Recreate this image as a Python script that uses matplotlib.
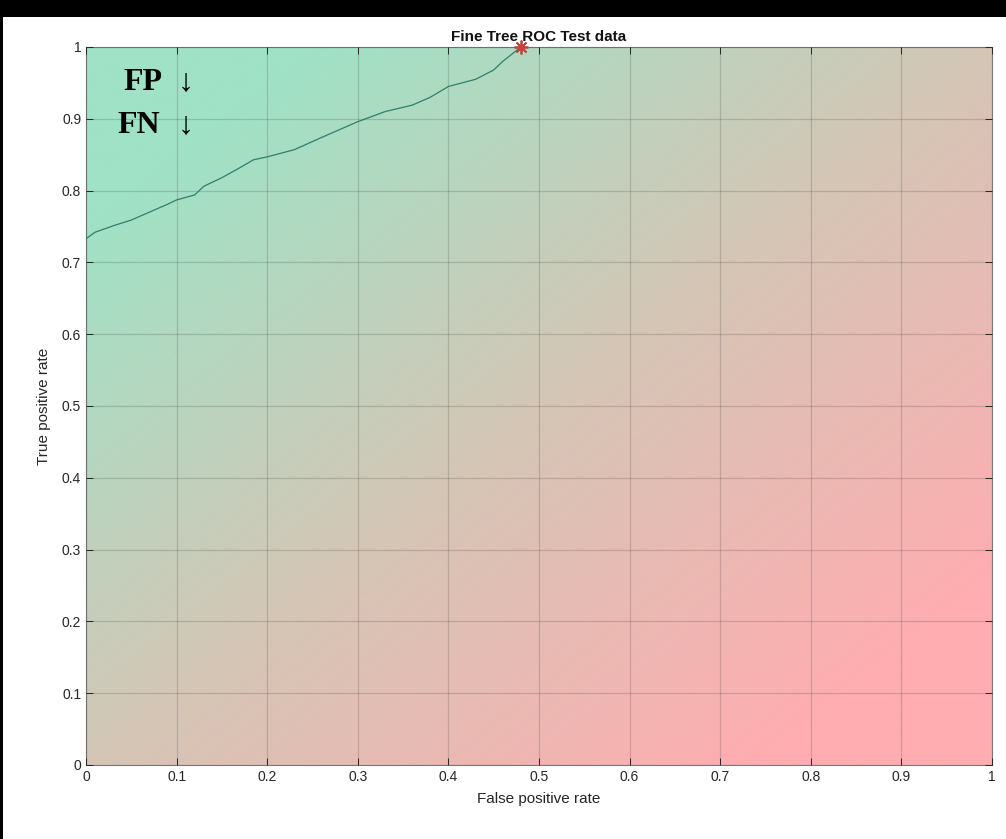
import numpy as np
import matplotlib.pyplot as plt
from matplotlib.colors import LinearSegmentedColormap
from matplotlib.patches import Rectangle

# ROC curve
fpr = [0.0, 0.01, 0.03, 0.05, 0.07, 0.09, 0.10, 0.12, 0.13, 0.15, 0.17, 0.185,
       0.20, 0.23, 0.26, 0.30, 0.33, 0.36, 0.38, 0.40, 0.43, 0.45, 0.46, 0.47, 0.48]
tpr = [0.733, 0.742, 0.751, 0.759, 0.770, 0.781, 0.787, 0.794, 0.806, 0.818, 0.832, 0.843,
       0.847, 0.857, 0.874, 0.896, 0.910, 0.919, 0.930, 0.945, 0.955, 0.968, 0.980, 0.990, 1.0]
op_point = (0.48, 1.0)

ticks = np.arange(0, 1.01, 0.1)
tick_labels = ['0', '0.1', '0.2', '0.3', '0.4', '0.5', '0.6', '0.7', '0.8', '0.9', '1']

W, H = 1006, 839
fig = plt.figure(figsize=(W / 100, H / 100), dpi=100, facecolor='black')
fig.patches.append(Rectangle((3 / W, 0), 1 - 3 / W, 1 - 17 / H, transform=fig.transFigure,
                             facecolor='white', edgecolor='none', zorder=-10))

left, right, top, bottom = 86, 992, 47, 765
ax = fig.add_axes([left / W, 1 - bottom / H, (right - left) / W, (bottom - top) / H])

# diagonal green -> pink background, flat at both corners
cmap = LinearSegmentedColormap.from_list('gp', ['#a0e2c6', '#d4c6b6', '#ffadb0'])
gx, gy = np.meshgrid(np.linspace(0, 1, 300), np.linspace(0, 1, 300))
grad = np.clip((gx - gy + 0.75) / 1.5, 0, 1)
ax.imshow(grad, extent=[0, 1, 0, 1], origin='lower', cmap=cmap, aspect='auto',
          interpolation='bilinear', vmin=0, vmax=1, zorder=0)

ax.plot(fpr, tpr, color='#2f7f6c', lw=0.9, zorder=3)
ax.plot(*op_point, marker=(8, 2, 0), color='#d23c3c', markersize=10, mew=1.3,
        zorder=4, clip_on=False)

ax.set_xlim(0, 1)
ax.set_ylim(0, 1)
ax.set_xticks(ticks)
ax.set_yticks(ticks)
ax.set_xticklabels(tick_labels)
ax.set_yticklabels(tick_labels)
ax.grid(True, color='#444444', alpha=0.22, lw=0.9)
ax.set_axisbelow(False)
ax.tick_params(direction='in', top=True, right=True, length=5, width=0.7,
               colors='#262626', labelsize=10)
for s in ax.spines.values():
    s.set_color('#7a7a7a')
    s.set_linewidth(0.8)

font = ['Liberation Sans', 'DejaVu Sans']
for lab in ax.get_xticklabels() + ax.get_yticklabels():
    lab.set_family(font)
ax.set_xlabel('False positive rate', fontsize=11, family=font, color='#262626', labelpad=6)
ax.set_ylabel('True positive rate', fontsize=11, family=font, color='#262626', labelpad=8)
ax.set_title('Fine Tree ROC Test data', fontsize=11, fontweight='bold', family=font,
             color='#111111', pad=4)

serif = ['Liberation Serif', 'DejaVu Serif']
ax.text(0.041, 0.940, 'FP', fontsize=23, fontweight='bold', family=serif,
        transform=ax.transAxes, color='black', va='baseline')
ax.text(0.035, 0.880, 'FN', fontsize=23, fontweight='bold', family=serif,
        transform=ax.transAxes, color='black', va='baseline')
ax.text(0.110, 0.940, '\u2193', fontsize=23, family=serif, ha='center',
        transform=ax.transAxes, color='black', va='baseline')
ax.text(0.110, 0.880, '\u2193', fontsize=23, family=serif, ha='center',
        transform=ax.transAxes, color='black', va='baseline')

fig.savefig('out.png', dpi=100, facecolor=fig.get_facecolor())
